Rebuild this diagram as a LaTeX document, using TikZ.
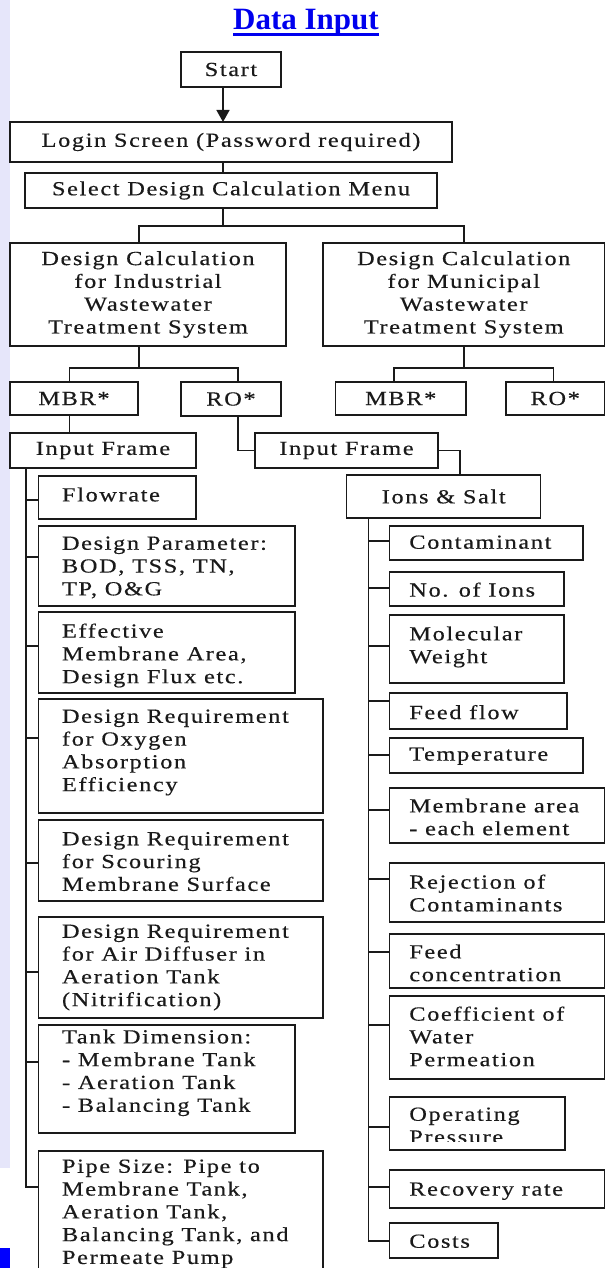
\documentclass[tikz,border=0pt]{standalone}
\usepackage{fontspec}
\setmainfont{Liberation Serif}
\newfontfamily\boxfamily{Liberation Serif}[FakeStretch=1.22,LetterSpace=8,FakeBold=0.35]
\newfontfamily\titlefamily{Liberation Serif}
\usetikzlibrary{arrows.meta,calc}
\definecolor{lav}{HTML}{E6E6FA}
\definecolor{ttl}{HTML}{0000EE}
\definecolor{ink}{HTML}{1A1A1A}
\newcommand\bxf{\boxfamily\fontsize{20}{22.8}\selectfont}
\tikzset{
  box/.style={draw=ink, line width=1.5pt, inner sep=0pt, outer sep=0pt,
    anchor=north west, align=center, font=\bxf, text=ink},
  txt/.style={inner sep=0pt, outer sep=0pt, anchor=north west, align=left,
    font=\bxf, text=ink},
  ln/.style={draw=ink, line width=1.5pt},
  arr/.style={ln, -{Triangle[width=13pt,length=12pt]}},
  titlestyle/.style={inner sep=0pt, anchor=base, text=ttl,
    font=\titlefamily\bfseries\fontsize{31}{36}\selectfont},
}
% centred box: name x y w h text
\newcommand\cbox[6]{\node[box, minimum width=#4pt, minimum height=#5pt] (#1) at (#2,#3) {#6};}
% left aligned box: name x y w h dx dy text
\newcommand\lbox[8]{\node[box, minimum width=#4pt, minimum height=#5pt] (#1) at (#2,#3) {};
  \node[txt] (#1t) at ([shift={(#6pt,-#7pt)}]#1.north west) {#8};}
% tick: name offset length
\newcommand\tick[3]{\draw[ln] ([yshift=-#2pt]#1.north west) -- ++(-#3,0);}
\begin{document}
\begin{tikzpicture}[x=1pt,y=-1pt]
\useasboundingbox (0,0) rectangle (606,1268);
\fill[white] (0,0) rectangle (606,1268);
\fill[lav] (0,0) rectangle (10,1168);
\fill[blue] (0,1248) rectangle (10,1268);

% title
\node[titlestyle] (title) at (306,30) {Data Input};
\draw[ttl, line width=2.5pt] ([yshift=-4.5pt]title.base west) -- ([yshift=-4.5pt]title.base east);

% columns / junctions
\coordinate (cx) at (223,0);
\coordinate (xI) at (139,0);
\coordinate (xM) at (464,0);
\coordinate (xA) at (69.6,0);
\coordinate (xB) at (238,0);
\coordinate (xC) at (394,0);
\coordinate (xD) at (553.5,0);
\coordinate (xE) at (460,0);
\coordinate (xL) at (26,0);
\coordinate (xR) at (368.3,0);
\coordinate (j1) at (223,226);
\coordinate (j2) at (139,368);
\coordinate (j3) at (464,368);

% top boxes
\cbox{start}{181}{52}{100}{35}{Start}
\cbox{login}{10}{122}{442}{40}{Login Screen (Password required)}
\cbox{sel}{25}{173}{412}{35}{Select Design Calculation Menu}
\cbox{ind}{10}{243}{276}{103}{Design Calculation\\for Industrial\\Wastewater\\Treatment System}
\cbox{mun}{323}{243}{281.5}{103}{Design Calculation\\for Municipal\\Wastewater\\Treatment System}
\cbox{mbr1}{10}{382}{128}{33}{MBR*}
\cbox{ro1}{181}{382}{100}{34}{RO*}
\cbox{mbr2}{335.5}{382}{130.5}{33}{MBR*}
\cbox{ro2}{506}{382}{98.5}{33}{RO*}
\cbox{if1}{10}{433}{186}{35}{Input Frame}
\cbox{if2}{255}{433}{183}{35}{Input Frame}
\cbox{ions}{346.7}{475}{194}{43}{Ions \& Salt}

% left column
\lbox{flow}{38.3}{476}{157.7}{43}{23.7}{11.5}{Flowrate}
\lbox{dp}{38.3}{526}{256.7}{80}{23.7}{10.5}{Design Parameter:\\BOD, TSS, TN,\\TP, O\&G}
\lbox{ef}{38.3}{612}{256.7}{81}{23.7}{11.5}{Effective\\Membrane Area,\\Design Flux etc.}
\lbox{ox}{38.3}{699}{284.7}{114}{23.7}{10.5}{Design Requirement\\for Oxygen\\Absorption\\Efficiency}
\lbox{sc}{38.3}{820}{284.7}{81}{23.7}{12}{Design Requirement\\for Scouring\\Membrane Surface}
\lbox{ad}{38.3}{917}{284.7}{101}{23.7}{7.5}{Design Requirement\\for Air Diffuser in\\Aeration Tank\\(Nitrification)}
\lbox{td}{38.3}{1025}{256.7}{108}{23.7}{4.5}{Tank Dimension:\\- Membrane Tank\\- Aeration Tank\\- Balancing Tank}
\lbox{ps}{38.3}{1151}{284.7}{125}{23.7}{8.5}{Pipe Size: Pipe to\\Membrane Tank,\\Aeration Tank,\\Balancing Tank, and\\Permeate Pump}

% right column
\lbox{con}{389.3}{526}{193.7}{34}{20}{9.5}{Contaminant}
\lbox{noi}{389.3}{572}{174.7}{34}{20}{10.5}{No. of Ions}
\lbox{mw}{389.3}{615}{174.7}{68}{20}{11.5}{Molecular\\Weight}
\lbox{ff}{389.3}{693}{177.7}{36}{20}{12}{Feed flow}
\lbox{tp}{389.3}{738}{193.7}{35}{20}{9.5}{Temperature}
\lbox{ma}{389.3}{788}{215.2}{55}{20}{10.5}{Membrane area\\- each element}
\lbox{rj}{389.3}{863}{215.2}{59}{20}{11.5}{Rejection of\\Contaminants}
\lbox{fc}{389.3}{934}{215.2}{54}{20}{10.5}{Feed\\concentration}
\lbox{co}{389.3}{996}{215.2}{83}{20}{10.5}{Coefficient of\\Water\\Permeation}
\node[box, minimum width=175.7pt, minimum height=53pt] (op) at (389.3,1097) {};
\begin{scope}
  \clip (op.north west) rectangle ([yshift=9pt]op.south east);
  \node[txt] (opt) at ([shift={(20pt,-10.5pt)}]op.north west) {Operating\\Pressure};
\end{scope}
\lbox{rr}{389.3}{1170}{215.2}{38}{20}{12.5}{Recovery rate}
\lbox{cs}{389.3}{1223}{108.7}{35}{20}{11.5}{Costs}

% connectors
\draw[arr] (start.south -| cx) -- (login.north -| cx);
\draw[ln] (login.south -| cx) -- (sel.north -| cx);
\draw[ln] (sel.south -| cx) -- (j1);
\draw[ln] (ind.north -| xI) |- (j1) -| (mun.north -| xM);
\draw[ln] (ind.south -| xI) -- (j2);
\draw[ln] (mbr1.north -| xA) |- (j2) -| (ro1.north -| xB);
\draw[ln] (mun.south -| xM) -- (j3);
\draw[ln] (mbr2.north -| xC) |- (j3) -| (ro2.north -| xD);
\draw[ln] (mbr1.south -| xA) -- (if1.north -| xA);
\draw[ln] (ro1.south -| xB) |- (if2.west);
\draw[ln] (if2.east) -| (ions.north -| xE);
\draw[ln] (if1.south -| xL) |- ([yshift=-36pt]ps.north west);
\draw[ln] (ions.south -| xR) |- ([yshift=-18pt]cs.north west);

\tick{flow}{24}{12.3}
\tick{dp}{31}{12.3}
\tick{ef}{34}{12.3}
\tick{ox}{39}{12.3}
\tick{sc}{43}{12.3}
\tick{ad}{55}{12.3}
\tick{td}{37}{12.3}

\tick{con}{15}{21}
\tick{noi}{16}{21}
\tick{mw}{31}{21}
\tick{ff}{8}{21}
\tick{tp}{17}{21}
\tick{ma}{22}{21}
\tick{rj}{16}{21}
\tick{fc}{18}{21}
\tick{co}{29}{21}
\tick{op}{30}{21}
\tick{rr}{17}{21}
\end{tikzpicture}
\end{document}
